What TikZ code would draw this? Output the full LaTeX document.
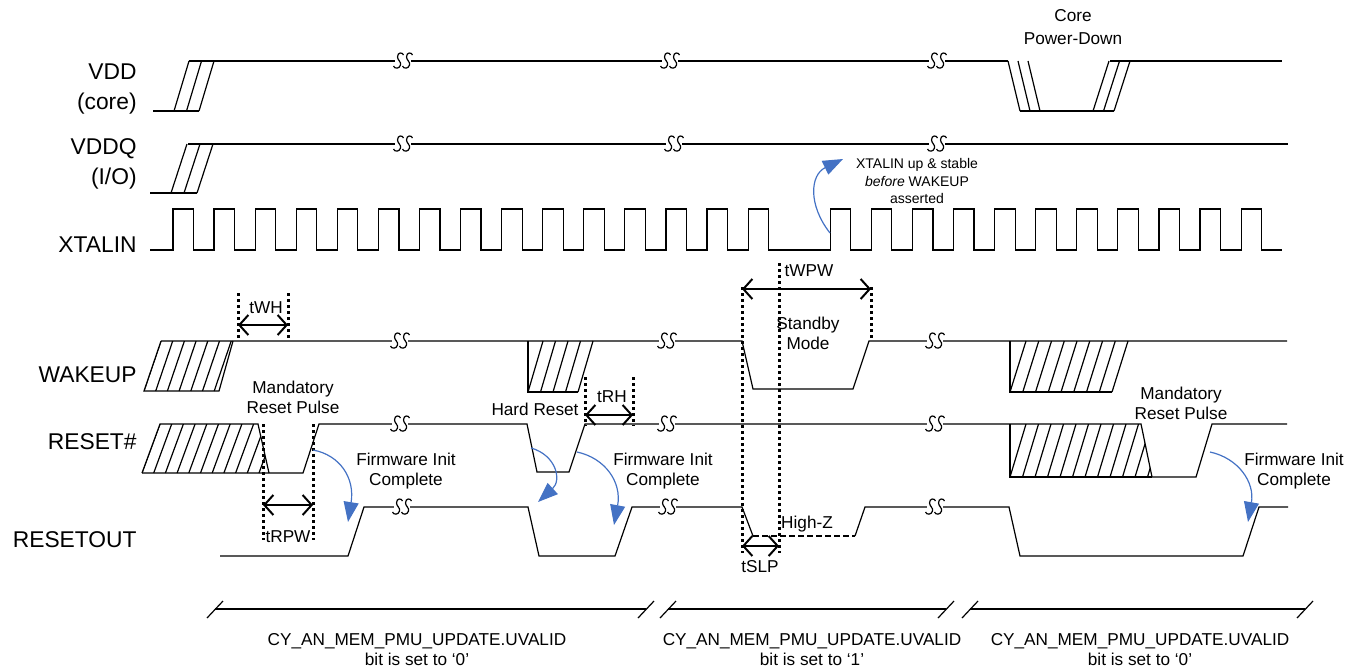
\documentclass[tikz,border=0pt]{standalone}
\usepackage{fontspec}
\setmainfont{Liberation Sans}
\usetikzlibrary{arrows.meta}

\definecolor{noteblue}{RGB}{68,114,196}

\tikzset{
  wave/.style={line width=0.6pt},
  guide/.style={line width=1.5pt, dash pattern=on 1.5pt off 1.5pt},
  span/.style={line width=1pt, >={Straight Barb[length=4.5pt,width=10pt]}, <->},
  flow/.style={noteblue, line width=0.6pt, -{Triangle[length=10pt,width=7.5pt]}},
  signame/.style={anchor=east, align=right, inner sep=0pt,
    font=\fontsize{11.4}{15}\selectfont},
  note/.style={align=center, inner sep=0pt, font=\fontsize{8.6}{10}\selectfont},
  brk/.pic={
    \fill[white] (-8,-2.5) rectangle (8,2.5);
    \foreach \dx in {-4.5,4.5}
      \draw[wave, shift={(\dx,0)}]
        (5,-6) .. controls (4,-9) and (-1,-9) .. (-1,-4)
        .. controls (-1,-1) and (3,1) .. (2,4)
        .. controls (1,8) and (-4,8) .. (-5,5);
  }
}

\begin{document}
\begin{tikzpicture}[x=0.5pt, y=-0.5pt]
  \useasboundingbox (0,0) rectangle (1352,671);

  % Signal names
  \node[signame] (vdd) at (137,89) {VDD\\(core)};
  \node[signame] (vddq) at (137,164) {VDDQ\\(I/O)};
  \node[signame] (xtal) at (137,245) {XTALIN};
  \node[signame] (wake) at (137,375) {WAKEUP};
  \node[signame] (rst) at (137,442) {RESET\#};
  \node[signame] (rstout) at (137,540) {RESETOUT};

  % VDD (core) ramps up, later powers down
  \draw[wave] (153,111) -- (199,111);
  \foreach \dx in {0,12.5,25} \draw[wave] ({174+\dx},111) -- ++(15,-50);
  \draw[wave] (189,61) -- (1008,61);
  \foreach \dx in {0,10,20} \draw[wave] ({1008+\dx},61) -- ++(12,50);
  \draw[wave] (1020,111) -- (1114,111);
  \foreach \dx in {0,10.5,21} \draw[wave] ({1093+\dx},111) -- ++(16,-50);
  \draw[wave] (1110,61) -- (1282,61);

  % VDDQ (I/O)
  \draw[wave] (150,193) -- (197,193);
  \foreach \dx in {0,13,26} \draw[wave] ({171+\dx},193) -- ++(16,-49);
  \draw[wave] (188,144) -- (1288,144);

  % XTALIN clock, one cycle missing
  \draw[wave] (150,250)
    \foreach \k in {0,...,14,16,17,18,19,20,21,22,23,24,25,26} {
      -- ({173+41.08*\k},250) -- ++(0,-41) -- ++(20.5,0) -- ++(0,41)
    } -- (1282,250);

  % WAKEUP
  \begin{scope}
    \clip (144,391) -- (161,341) -- (233,341) -- (219,391) -- cycle;
    \foreach \x in {144,155.7,...,225} \draw[wave] (\x,391) -- ++(17,-50);
  \end{scope}
  \draw[wave] (161,341) -- (144,391) -- (219,391) -- (233,341);
  \draw[wave] (161,341) -- (742,341) -- (753,389) -- (853,389)
    -- (869,341) -- (1287,341);
  \draw[wave] (528,341) -- (528,392) -- (578,392);
  \foreach \x in {528,540.5,...,578} \draw[wave] (\x,392) -- ++(15,-51);
  \draw[wave] (1010,341) -- (1010,392) -- (1112,392);
  \foreach \x in {1010,1022.75,...,1112} \draw[wave] (\x,392) -- ++(16,-51);

  % RESET#
  \begin{scope}
    \clip (142,473) -- (160,424) -- (258,424) -- (269,473) -- cycle;
    \foreach \x in {142,153.7,...,270} \draw[wave] (\x,473) -- ++(18,-49);
  \end{scope}
  \draw[wave] (142,473) -- (160,424) -- (258,424) -- (269,473);
  \draw[wave] (142,473) -- (303,473) -- (319,424) -- (527,424) -- (537,472)
    -- (569,472) -- (585,424) -- (1141,424) -- (1152,477) -- (1196,477)
    -- (1212,424) -- (1287,424);
  \begin{scope}
    \clip (1010,424) -- (1010,477) -- (1152,477) -- (1141,424) -- cycle;
    \foreach \x in {1010,1022.5,...,1150} \draw[wave] (\x,477) -- ++(16,-53);
  \end{scope}
  \draw[wave] (1010,424) -- (1010,477) -- (1152,477);

  % RESETOUT
  \draw[wave] (220,556) -- (348,556) -- (364,507) -- (528,507) -- (539,556)
    -- (615,556) -- (632,507) -- (742,507) -- (753,536);
  \draw[wave, dash pattern=on 3pt off 1.5pt] (753,536) -- (855,536);
  \draw[wave] (855,536) -- (865,507) -- (1009,507) -- (1020,556)
    -- (1243,556) -- (1259,507) -- (1288,507);

  % Time breaks
  \foreach \x/\y in {403/61, 670/61, 937/61, 403/144, 674/144, 937/144,
                     400/341, 667/341, 935/341, 400/424, 667/424, 935/424,
                     402/507, 668/507, 935/507}
    \pic at (\x,\y) {brk};

  % Timing parameters
  \draw[guide] (238,293) -- (238,341) (288,293) -- (288,341);
  \draw[span] (238,325) -- (288,325);
  \node[note] (twh) at (266,308) {tWH};

  \draw[guide] (263,424) -- (263,540) (313,424) -- (313,540);
  \draw[span] (263,505) -- (313,505);
  \node[note] (trpw) at (288,537) {tRPW};

  \draw[guide] (585,377) -- (585,426) (633,377) -- (633,426);
  \draw[span] (585,415) -- (633,415);
  \node[note] (trh) at (612,397) {tRH};

  \draw[guide] (742,287) -- (742,553) (779,263) -- (779,553)
    (871,287) -- (871,341);
  \draw[span] (742,289) -- (871,289);
  \node[note] (twpw) at (809,271) {tWPW};
  \draw[span] (742,546) -- (779,546);
  \node[note] (tslp) at (760,567) {tSLP};

  % Annotations
  \node[note, font=\fontsize{8.6}{11.5}\selectfont] (cpd) at (1073,27)
    {Core\\Power-Down};
  \node[note, font=\fontsize{7}{8.75}\selectfont] (xnote) at (917,181)
    {XTALIN up \& stable\\\textit{before} WAKEUP\\asserted};
  \node[note] (mrp1) at (293,397) {Mandatory\\Reset Pulse};
  \node[note] (mrp2) at (1181,403) {Mandatory\\Reset Pulse};
  \node[note] (hard) at (535,409) {Hard Reset};
  \node[note] (stby) at (808,333) {Standby\\Mode};
  \node[note] (hiz) at (807,524) {High-Z};
  \node[note] (fw1) at (406,471) {Firmware Init\\Complete};
  \node[note] (fw2) at (663,471) {Firmware Init\\Complete};
  \node[note] (fw3) at (1294,471) {Firmware Init\\Complete};

  % Blue cause arrows
  \draw[flow] (830,233) .. controls (808,205) and (810,175) .. (843,159);
  \draw[flow] (313,450) .. controls (340,455) and (355,478) .. (348,522);
  \draw[flow] (531,448) .. controls (556,455) and (562,480) .. (538,502);
  \draw[flow] (577,452) .. controls (605,458) and (622,482) .. (614,525);
  \draw[flow] (1210,452) .. controls (1238,458) and (1255,482) .. (1248,522);

  % UVALID phases
  \draw[wave] (215,609) -- (646,609) (668,609) -- (946,609)
    (970,609) -- (1305,609);
  \foreach \x in {215,646,668,946,970,1305}
    \draw[wave] (\x-8,618) -- (\x+8,601);
  \node[note] (uv1) at (417,650) {CY\_AN\_MEM\_PMU\_UPDATE.UVALID\\bit is set to ‘0’};
  \node[note] (uv2) at (812,650) {CY\_AN\_MEM\_PMU\_UPDATE.UVALID\\bit is set to ‘1’};
  \node[note] (uv3) at (1140,650) {CY\_AN\_MEM\_PMU\_UPDATE.UVALID\\bit is set to ‘0’};
\end{tikzpicture}
\end{document}
